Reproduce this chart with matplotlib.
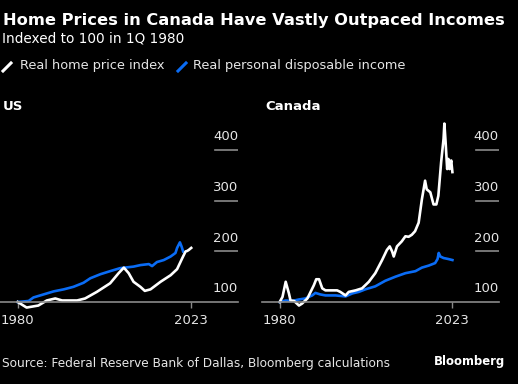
import matplotlib
matplotlib.use("Agg")
import matplotlib.pyplot as plt
from matplotlib.lines import Line2D
from matplotlib.transforms import blended_transform_factory

BG = "#000000"
WHITE = "#ffffff"
BLUE = "#0a6cf5"
GRID = "#8a8a8a"
TXT = "#e6e6e6"

# values (index, 1Q 1980 = 100)
us_home_years = [1980, 1982.2, 1985.1, 1987.2, 1989.3, 1991, 1994.7, 1996.7, 1999.6,
                 2002.9, 2005, 2006.3, 2007.5, 2008.7, 2010.4, 2011.5, 2012.9,
                 2015.4, 2017.9, 2019.5, 2020.8, 2021.6, 2022, 2022.4, 2023]
us_home = [100, 89, 93, 103, 107, 103, 103, 107, 120,
           137, 157, 168, 157, 140, 130, 122, 125,
           140, 153, 165, 187, 200, 201, 203, 207]

us_inc_years = [1980, 1982.7, 1983.9, 1986.4, 1988.9, 1991.4, 1993.8, 1996.3, 1998,
                2000.5, 2002.9, 2005.4, 2008.7, 2010.4, 2012.5, 2013.3, 2014.5,
                2016.2, 2017.9, 2019.1, 2019.5, 2020.2, 2020.6, 2021]
us_inc = [100, 102, 109, 115, 121, 125, 130, 138, 147,
          155, 161, 167, 170, 173, 175, 171, 179,
          183, 190, 197, 207, 218, 210, 200]

ca_home_years = [1980, 1980.7, 1981.5, 1982.3, 1982.7, 1983.6, 1984.8, 1985.6, 1986.9,
                 1987.7, 1988.5, 1989.1, 1989.8, 1990.6, 1991.4, 1993.1, 1994.3,
                 1995.1, 1996.4, 1997.2, 1998.9, 2000.5, 2002.2, 2003.8, 2005.5,
                 2006.7, 2007.4, 2008, 2008.4, 2009.2, 2010.4, 2011.3, 2012.1,
                 2012.9, 2013.7, 2014.6, 2015.4, 2016.2, 2016.6, 2017.5, 2018.3,
                 2019, 2019.5, 2020.2, 2020.8, 2021, 2021.3, 2021.7, 2022, 2022.3,
                 2022.7, 2023]
ca_home = [100, 110, 140, 117, 103, 102, 93, 97, 107,
           120, 133, 145, 145, 127, 123, 123, 123,
           120, 113, 120, 123, 127, 140, 157, 183,
           203, 210, 200, 190, 210, 220, 230, 229,
           233, 240, 257, 303, 340, 323, 317, 293,
           293, 310, 377, 423, 453, 417, 363, 383, 363,
           380, 357]

ca_inc_years = [1980, 1981.5, 1983.1, 1984.8, 1986.4, 1988.1, 1988.9, 1990.1, 1991.4,
                1993.9, 1996.4, 1998.1, 1999.7, 2001.3, 2003.8, 2006.3, 2008.8,
                2011.3, 2013.8, 2015.4, 2017.1, 2018.7, 2019.3, 2019.6, 2020,
                2020.8, 2022, 2023]
ca_inc = [100, 103, 102, 105, 107, 113, 118, 115, 113,
          113, 111, 117, 120, 125, 131, 142, 150,
          157, 161, 168, 172, 177, 185, 197, 190,
          187, 185, 183]

ticks = [100, 200, 300, 400]
xtick_years = [1980, 2023]

plt.rcParams["font.family"] = ["DejaVu Sans"]

fig = plt.figure(figsize=(5.18, 3.84), dpi=100, facecolor=BG)
W, H = 518, 384


def px_axes(x0, x1, ytop, ybot):
    return fig.add_axes([x0 / W, 1 - ybot / H, (x1 - x0) / W, (ybot - ytop) / H])


panels = [
    (px_axes(0, 238, 118, 302), "US", us_home_years, us_home, us_inc_years, us_inc),
    (px_axes(262, 499, 118, 302), "Canada", ca_home_years, ca_home, ca_inc_years, ca_inc),
]

for ax, name, hx, hy, ix, iy in panels:
    ax.set_facecolor(BG)
    ax.plot(ix, iy, color=BLUE, lw=1.9, clip_on=False, solid_joinstyle="round")
    ax.plot(hx, hy, color=WHITE, lw=1.9, clip_on=False, solid_joinstyle="round")
    ax.set_xlim(1975.6, 2034.6)
    ax.set_ylim(100, 464)
    for s in ["top", "right", "left"]:
        ax.spines[s].set_visible(False)
    ax.spines["bottom"].set_color(GRID)
    ax.spines["bottom"].set_linewidth(1.2)
    ax.set_yticks([])
    ax.set_xticks(xtick_years)
    ax.set_xticklabels([str(y) for y in xtick_years])
    ax.tick_params(axis="x", colors=GRID, length=4, width=1, labelcolor=TXT,
                   labelsize=9.5, pad=5)
    tr = blended_transform_factory(ax.transAxes, ax.transData)
    for t in ticks:
        if t > 100:
            ax.plot([0.905, 1.0], [t, t], color=GRID, lw=1.2, transform=tr)
        ax.annotate(str(t), xy=(1.0, t), xycoords=tr, xytext=(0, 5),
                    textcoords="offset points", ha="right", va="bottom",
                    color=TXT, fontsize=9.5)
    fig.text(ax.get_position().x0 + 3 / W, 1 - 106 / H, name, color=WHITE,
             fontsize=9.5, fontweight="bold", va="center")

fig.text(3 / W, 1 - 20 / H, "Home Prices in Canada Have Vastly Outpaced Incomes",
         color=WHITE, fontsize=11.7, fontweight="bold", va="center")
fig.text(2 / W, 1 - 39 / H, "Indexed to 100 in 1Q 1980", color=WHITE,
         fontsize=9.8, va="center")

# legend
fig.add_artist(Line2D([3 / W, 11 / W], [1 - 71 / H, 1 - 63 / H], color=WHITE, lw=2.2,
                      transform=fig.transFigure))
fig.text(20 / W, 1 - 66 / H, "Real home price index", color=TXT, fontsize=9.3,
         va="center")
fig.add_artist(Line2D([178 / W, 186 / W], [1 - 71 / H, 1 - 63 / H], color=BLUE, lw=2.2,
                      transform=fig.transFigure))
fig.text(193 / W, 1 - 66 / H, "Real personal disposable income", color=TXT,
         fontsize=9.3, va="center")

fig.text(2 / W, 1 - 363 / H, "Source: Federal Reserve Bank of Dallas, Bloomberg calculations",
         color=TXT, fontsize=8.7, va="center")
fig.text(505 / W, 1 - 361 / H, "Bloomberg", color=WHITE, fontsize=8.4,
         fontweight="bold", va="center", ha="right")

fig.savefig("out.png", dpi=100, facecolor=BG)
